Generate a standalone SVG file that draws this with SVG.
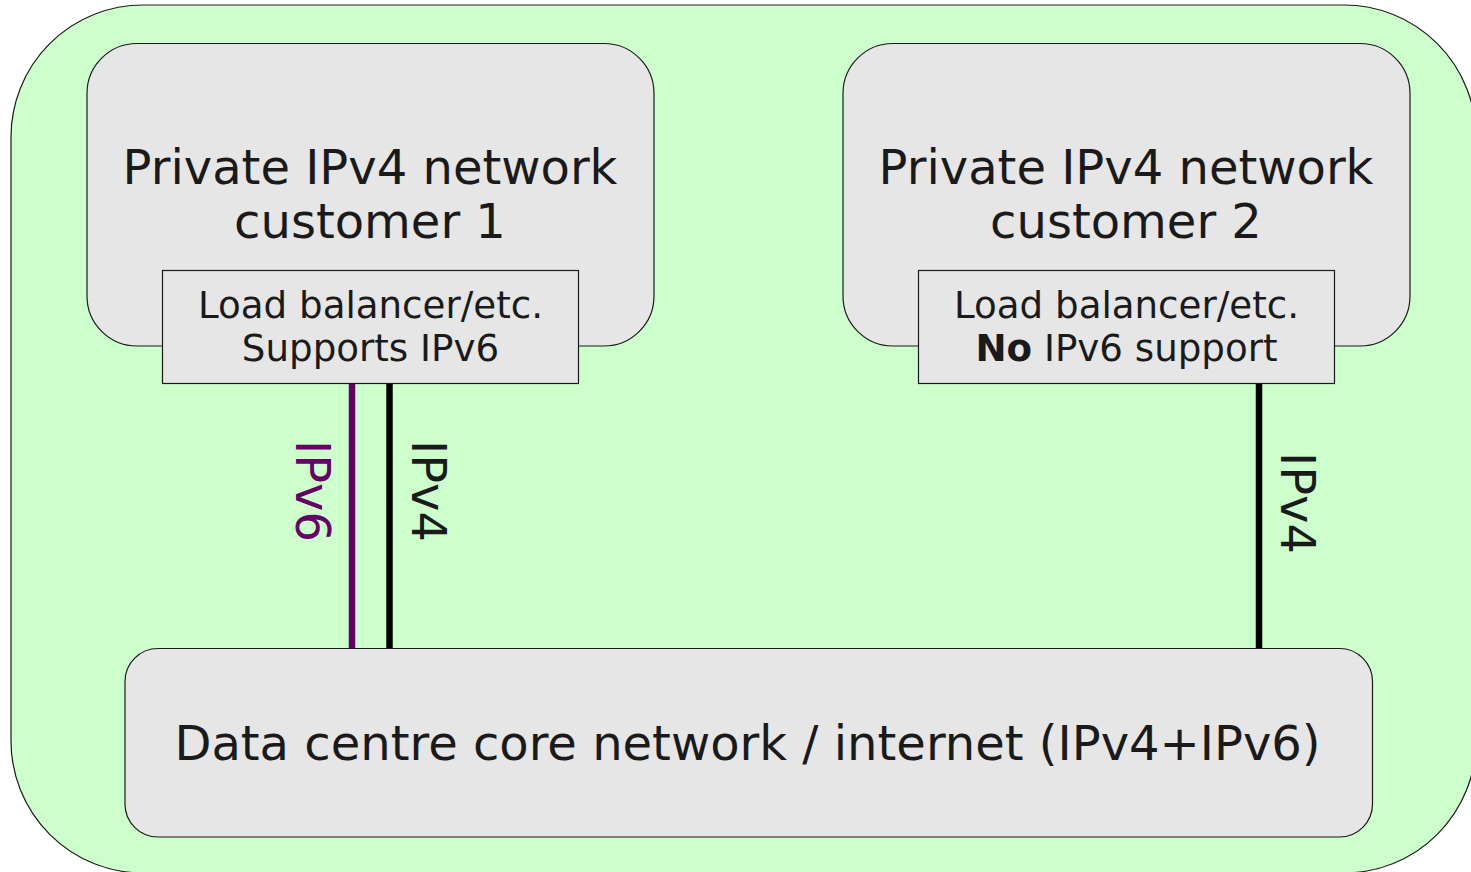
<svg xmlns="http://www.w3.org/2000/svg" width="1471" height="872" viewBox="0 0 1471 872">
<style>
.box{fill:#e6e6e6;stroke:#1a1a1a;stroke-width:1.2}
.t{font-family:"DejaVu Sans",sans-serif;fill:#1a1a1a;text-anchor:middle}
.big{font-size:48px}
.mid{font-size:37.2px}
.link{stroke:#000;stroke-width:6.5;fill:none}
</style>
<rect width="1471" height="872" fill="#ffffff"/>
<g id="datacentre">
<rect x="11" y="5" width="1465" height="868" rx="132" ry="132" fill="#ccffcc" stroke="#1a1a1a" stroke-width="1.2"/>
</g>
<g id="connectors">
<line class="link" x1="352" y1="383" x2="352" y2="648" style="stroke:#660066"/>
<line class="link" x1="389.5" y1="383" x2="389.5" y2="648"/>
<line class="link" x1="1259" y1="383" x2="1259" y2="648"/>
<text class="t big" transform="translate(296,491) rotate(90)" style="fill:#660066">IPv6</text>
<text class="t big" transform="translate(412,491) rotate(90)">IPv4</text>
<text class="t big" transform="translate(1281,503) rotate(90)">IPv4</text>
</g>
<g id="customer1">
<rect class="box" x="87" y="43.5" width="567" height="302.5" rx="50" ry="50"/>
<text class="t big" x="370" y="184">Private IPv4 network</text>
<text class="t big" x="370" y="238">customer 1</text>
</g>
<g id="customer2">
<rect class="box" x="843" y="43.5" width="567" height="302.5" rx="50" ry="50"/>
<text class="t big" x="1126" y="184">Private IPv4 network</text>
<text class="t big" x="1126" y="238">customer 2</text>
</g>
<g id="lb1">
<rect class="box" x="162.5" y="270.5" width="416" height="113"/>
<text class="t mid" x="370.5" y="318">Load balancer/etc.</text>
<text class="t mid" x="370.5" y="361">Supports IPv6</text>
</g>
<g id="lb2">
<rect class="box" x="918.5" y="270.5" width="416" height="113"/>
<text class="t mid" x="1126.5" y="318">Load balancer/etc.</text>
<text class="t mid" x="1126.5" y="361"><tspan font-weight="bold">No</tspan> IPv6 support</text>
</g>
<g id="core">
<rect class="box" x="125" y="648.5" width="1247.5" height="188.5" rx="33" ry="33"/>
<text class="t big" x="747.5" y="760">Data centre core network / internet (IPv4+IPv6)</text>
</g>
</svg>
